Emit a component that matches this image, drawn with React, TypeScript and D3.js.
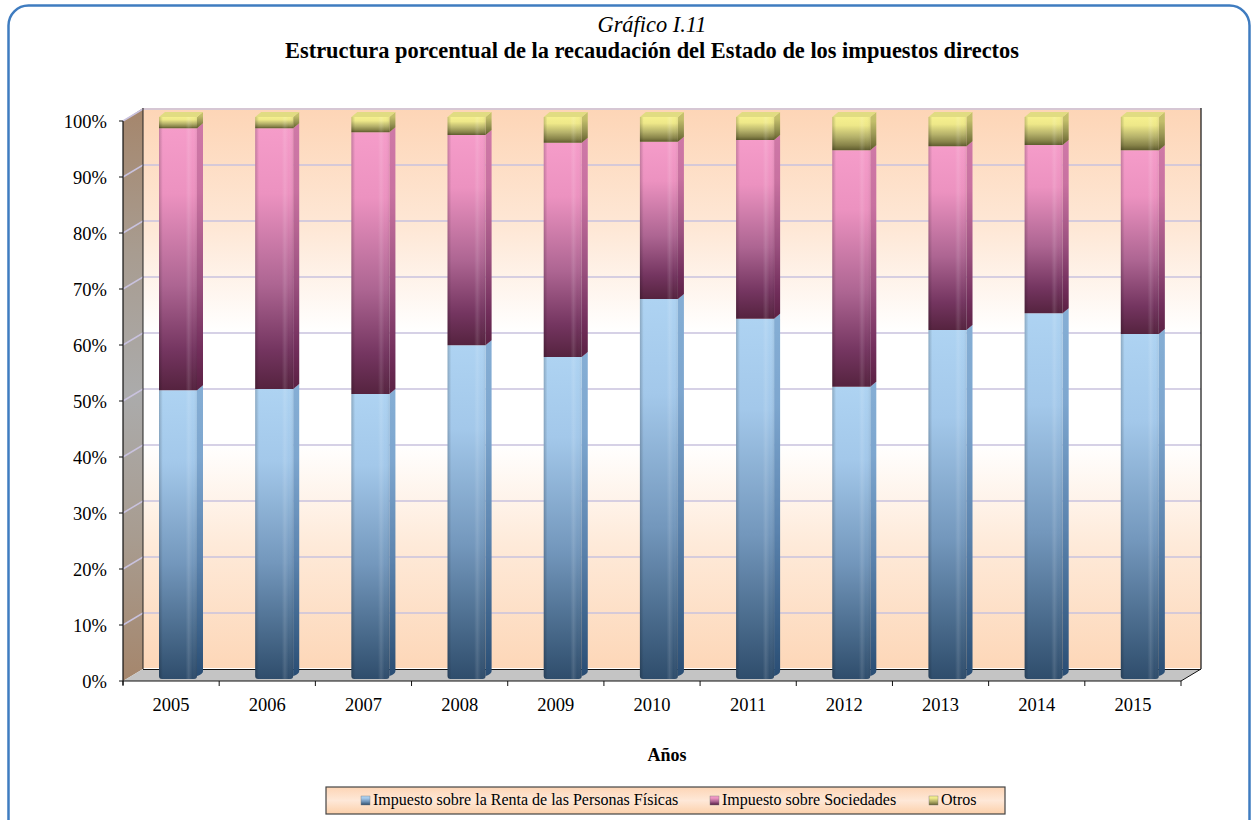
import * as d3 from "d3";

const years = ["2005", "2006", "2007", "2008", "2009", "2010", "2011", "2012", "2013", "2014", "2015"];
const renta = [51.4, 51.6, 50.7, 59.4, 57.3, 67.6, 64.1, 52.0, 62.1, 65.1, 61.4];
const sociedades = [46.6, 46.4, 46.6, 37.4, 38.1, 28.0, 31.8, 42.1, 32.7, 29.9, 32.7];
const otros = [2.0, 2.0, 2.7, 3.2, 4.6, 4.4, 4.1, 5.9, 5.2, 5.0, 5.9];
const ticks = [0, 10, 20, 30, 40, 50, 60, 70, 80, 90, 100];

const seriesNames = ["Impuesto sobre la Renta de las Personas Físicas", "Impuesto sobre Sociedades", "Otros"];
const seriesValues = [renta, sociedades, otros];
// colours of each stacked piece, top to bottom
const seriesColors = [
  ["#aed3f2", "#a3c8ea", "#7397bc", "#48698a", "#2f4d6c"],
  ["#f59cc9", "#ec92c0", "#ad6592", "#743560", "#55233f"],
  ["#f6f08e", "#eee889", "#b5b16a", "#878349", "#5f5c2e"],
];
const sideColors = ["#1c4f8a", "#6a1c50", "#50501a"];
const legendX = [361, 710, 929];

const W = 1252;
const H = 820;
const font = "'Liberation Serif', 'Times New Roman', serif";

// 3D box of the plot
const left = 123;
const right = 1181;
const floorFront = 681;
const topFront = 121;
const dx = 20;
const dy = 12;

const x = d3.scaleBand().domain(years).range([left, right]);
const y = d3.scaleLinear().domain([0, 100]).range([floorFront, topFront]);
const yBar = d3.scaleLinear().domain([0, 100]).range([679, 117]);

const barW = 38;
const sideW = 6;
const sideH = 5;
const barOffset = 36;

export default function App() {
  const stacked = years.map((yr, i) => {
    let acc = 0;
    return seriesValues.map((vals, s) => {
      const from = acc;
      acc += vals[i];
      return { yr, s, from, to: acc };
    });
  });

  return (
    <svg
      width={W}
      height={H}
      viewBox={`0 0 ${W} ${H}`}
      style={{ position: "fixed", left: 0, top: 0, background: "#fff" }}
      fontFamily={font}
    >
      <defs>
        <linearGradient id="wall" x1="0" x2="0" y1="0" y2="1">
          <stop offset="0%" stopColor="#fdd5b6" />
          <stop offset="22%" stopColor="#fee8d7" />
          <stop offset="40%" stopColor="#ffffff" />
          <stop offset="60%" stopColor="#ffffff" />
          <stop offset="78%" stopColor="#feead9" />
          <stop offset="100%" stopColor="#fdd7b8" />
        </linearGradient>
        <linearGradient id="sideWall" x1="0" x2="0" y1="0" y2="1">
          <stop offset="0%" stopColor="#a5866c" />
          <stop offset="25%" stopColor="#a89c90" />
          <stop offset="50%" stopColor="#ababab" />
          <stop offset="75%" stopColor="#a89c90" />
          <stop offset="100%" stopColor="#a5866c" />
        </linearGradient>
        <linearGradient id="legendBg" x1="0" x2="0" y1="0" y2="1">
          <stop offset="0%" stopColor="#fdd5b5" />
          <stop offset="50%" stopColor="#fee8d8" />
          <stop offset="100%" stopColor="#fcd0aa" />
        </linearGradient>
        {seriesColors.map((c, i) => (
          <linearGradient key={i} id={`front${i}`} x1="0" x2="0" y1="0" y2="1">
            <stop offset="0%" stopColor={c[0]} />
            <stop offset="25%" stopColor={c[1]} />
            <stop offset="60%" stopColor={c[2]} />
            <stop offset="85%" stopColor={c[3]} />
            <stop offset="100%" stopColor={c[4]} />
          </linearGradient>
        ))}
        <linearGradient id="sheen" x1="0" x2="1" y1="0" y2="0">
          <stop offset="0%" stopColor="#000" stopOpacity="0.2" />
          <stop offset="10%" stopColor="#000" stopOpacity="0" />
          <stop offset="70%" stopColor="#fff" stopOpacity="0" />
          <stop offset="78%" stopColor="#fff" stopOpacity="0.12" />
          <stop offset="88%" stopColor="#fff" stopOpacity="0" />
          <stop offset="100%" stopColor="#000" stopOpacity="0.06" />
        </linearGradient>
      </defs>

      <rect x={8.5} y={5.5} width={1241} height={840} rx={20} fill="#fff" stroke="#3f7cc0" strokeWidth={2.5} />

      <text x={652} y={32} textAnchor="middle" fontSize={22.4} fontStyle="italic">Gráfico I.11</text>
      <text x={652} y={58} textAnchor="middle" fontSize={22.4} fontWeight="bold">
        Estructura porcentual de la recaudación del Estado de los impuestos directos
      </text>

      {/* walls and floor */}
      <rect x={left + dx} y={topFront - dy - 1} width={right - left} height={floorFront - topFront} fill="url(#wall)" />
      <polygon
        points={`${left},${topFront} ${left + dx},${topFront - dy - 1} ${left + dx},${floorFront - dy} ${left},${floorFront}`}
        fill="url(#sideWall)"
      />
      <polygon
        points={`${left},${floorFront} ${left + dx},${floorFront - dy} ${right + dx},${floorFront - dy} ${right},${floorFront}`}
        fill="#c4c4c4"
      />

      {/* gridlines */}
      {ticks.filter((t) => t > 0).map((t) => (
        <polyline
          key={t}
          points={`${left},${y(t)} ${left + dx},${y(t) - dy} ${right + dx},${y(t) - dy}`}
          fill="none"
          stroke="#c9c2de"
          strokeWidth={1.5}
        />
      ))}
      <line x1={left + dx} x2={left + dx} y1={topFront - dy - 1} y2={floorFront - dy} stroke="#222" />
      <line x1={left + dx} x2={right + dx} y1={floorFront - dy + 0.5} y2={floorFront - dy + 0.5} stroke="#111" />
      <line x1={right + dx} x2={right + dx} y1={topFront - dy - 1} y2={floorFront - dy} stroke="#111" strokeWidth={1.2} />
      <line x1={right} x2={right + dx} y1={floorFront} y2={floorFront - dy} stroke="#111" />

      {/* bars */}
      {stacked.map((pieces) =>
        pieces.map((p) => {
          const x0 = (x(p.yr) as number) + barOffset;
          const x1 = x0 + barW;
          const yt = yBar(p.to);
          const yb = yBar(p.from);
          const c = seriesColors[p.s];
          const r = p.s === 0 ? 3 : 0;
          const frontPath = `M${x0},${yt}H${x1}V${yb - r}Q${x1},${yb} ${x1 - r},${yb}H${x0 + r}Q${x0},${yb} ${x0},${yb - r}Z`;
          const sidePath = `M${x1},${yt}L${x1 + sideW},${yt - sideH}V${yb - sideH - r}Q${x1 + sideW},${yb - sideH} ${x1},${yb - r}Z`;
          return (
            <g key={p.yr + p.s}>
              <path d={sidePath} fill={`url(#front${p.s})`} />
              <path d={sidePath} fill={sideColors[p.s]} opacity={0.28} />
              <path d={frontPath} fill={`url(#front${p.s})`} />
              <path d={frontPath} fill="url(#sheen)" />
              {p.s === 2 && (
                <polygon
                  points={`${x0},${yt} ${x0 + sideW},${yt - sideH} ${x1 + sideW},${yt - sideH} ${x1},${yt}`}
                  fill={d3.color(c[0])!.darker(0.25).formatHex()}
                />
              )}
            </g>
          );
        })
      )}

      {/* axes */}
      <line x1={left} x2={left} y1={topFront} y2={floorFront + 4} stroke="#111" strokeWidth={1.2} />
      <line x1={left} x2={right} y1={floorFront} y2={floorFront} stroke="#111" strokeWidth={1.2} />
      {ticks.map((t) => (
        <g key={t}>
          <line x1={left - 4} x2={left} y1={y(t)} y2={y(t)} stroke="#111" />
          <text x={107} y={y(t) + 7} textAnchor="end" fontSize={18.5}>{t}%</text>
        </g>
      ))}
      {[...years, ""].map((yr, i) => {
        const tx = left + i * x.bandwidth();
        return <line key={i} x1={tx} x2={tx} y1={floorFront} y2={floorFront + 5} stroke="#111" />;
      })}
      {years.map((yr) => (
        <text key={yr} x={(x(yr) as number) + x.bandwidth() / 2} y={711} textAnchor="middle" fontSize={18.5}>{yr}</text>
      ))}

      <text x={667} y={761} textAnchor="middle" fontSize={18} fontWeight="bold">Años</text>

      {/* legend */}
      <rect x={326} y={787} width={679} height={27} fill="url(#legendBg)" stroke="#444" strokeWidth={1.2} />
      {seriesNames.map((name, i) => (
        <g key={name}>
          <rect x={legendX[i]} y={796} width={9} height={9} fill={`url(#front${i})`} stroke="#777" strokeWidth={0.4} />
          <text x={legendX[i] + 12} y={805} fontSize={16}>{name}</text>
        </g>
      ))}
    </svg>
  );
}
